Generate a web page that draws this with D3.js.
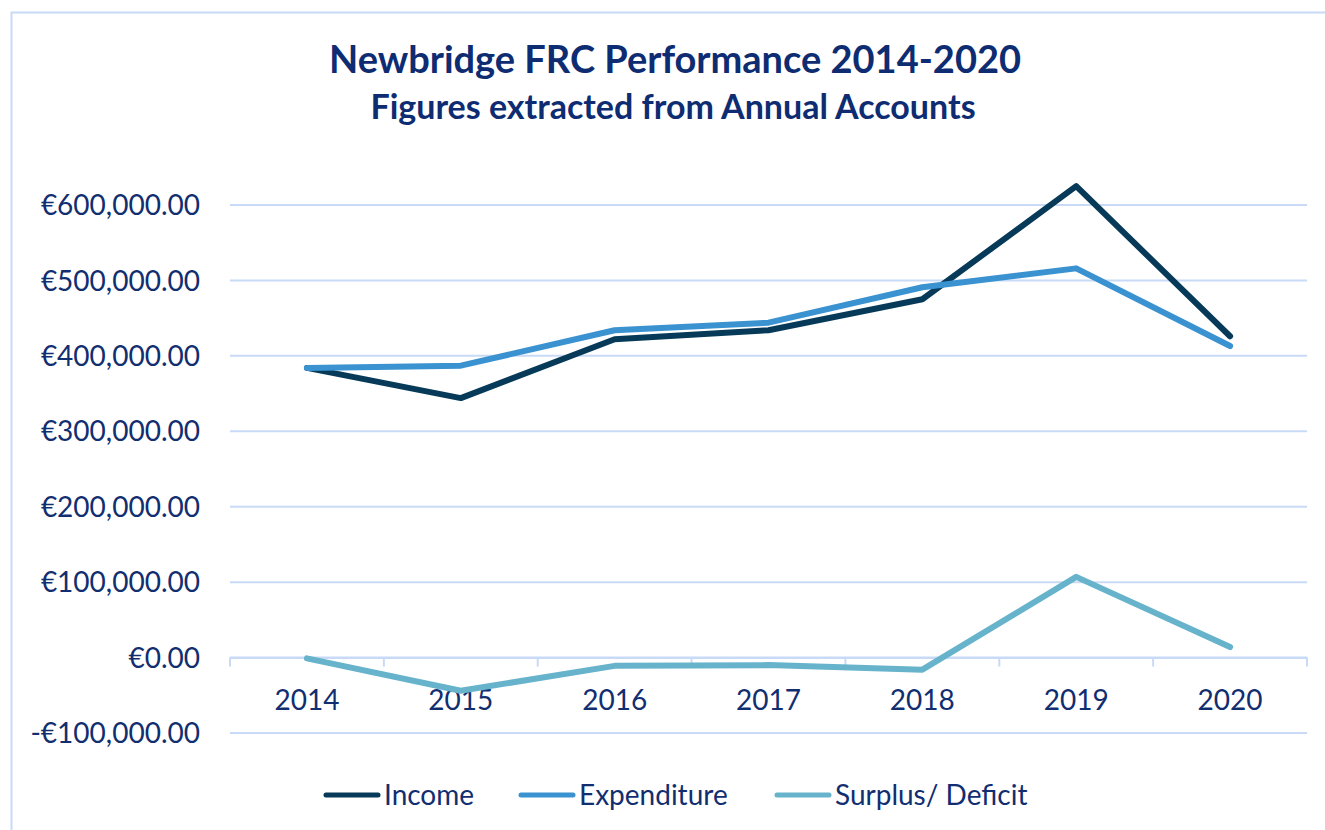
<!DOCTYPE html>
<html>
<head>
<meta charset="utf-8">
<script src="https://cdn.jsdelivr.net/npm/d3@7"></script>
<style>
  body { margin: 0; background: #fff; }
  svg { display: block; font-family: Lato, "Open Sans", sans-serif; }
</style>
</head>
<body>
<svg id="chart" width="1325" height="830"></svg>
<script>
// values
var years = ["2014", "2015", "2016", "2017", "2018", "2019", "2020"];
var income = [384000, 344000, 422000, 434000, 475000, 625000, 426000];
var expenditure = [384000, 387000, 434000, 444000, 491000, 516000, 413000];
var surplus = [-1000, -44000, -11000, -10000, -16000, 107000, 14000];
var yTicks = [-100000, 0, 100000, 200000, 300000, 400000, 500000, 600000];

var seriesNames = ["Income", "Expenditure", "Surplus/ Deficit"];
var seriesValues = [income, expenditure, surplus];
var seriesColors = ["#073a58", "#3a92d0", "#66b3cb"];

var textColor = "#112e70",
  gridColor = "#c8daf6";

var svg = d3.select("svg#chart"),
  margin = {top: 205, right: 18, bottom: 97, left: 230},
  width = 1325 - margin.left - margin.right,
  height = 830 - margin.top - margin.bottom;

// chart frame, runs off the right and bottom edges like the reference
svg.append("rect")
  .attr("x", 11.5).attr("y", 12.5)
  .attr("width", 1330).attr("height", 830)
  .attr("fill", "none")
  .attr("stroke", gridColor)
  .attr("stroke-width", 2);

svg.append("text")
  .attr("x", 675).attr("y", 73)
  .attr("text-anchor", "middle")
  .attr("fill", "#0e2c72")
  .style("font-size", "38px").style("font-weight", "bold")
  .text("Newbridge FRC Performance 2014-2020");

svg.append("text")
  .attr("x", 673).attr("y", 119)
  .attr("text-anchor", "middle")
  .attr("fill", "#0e2c72")
  .style("font-size", "34px").style("font-weight", "bold")
  .text("Figures extracted from Annual Accounts");

var x = d3.scaleBand().domain(years).range([0, width]),
  y = d3.scaleLinear().domain([-100000, 600000]).range([733 - margin.top, 0]);

var g = svg.append("g")
  .attr("transform", "translate(" + margin.left + "," + margin.top + ")");

// gridlines
g.append("g")
  .selectAll("line")
  .data(yTicks)
  .enter().append("line")
  .attr("x1", 0).attr("x2", width)
  .attr("y1", function(d) { return y(d); })
  .attr("y2", function(d) { return y(d); })
  .attr("stroke", gridColor)
  .attr("stroke-width", 2);

// y labels
var euro = d3.format(",.2f");
g.append("g")
  .selectAll("text")
  .data(yTicks)
  .enter().append("text")
  .attr("x", -30)
  .attr("y", function(d) { return y(d); })
  .attr("dy", "0.36em")
  .attr("text-anchor", "end")
  .attr("fill", textColor)
  .style("font-size", "28px")
  .text(function(d) { return (d < 0 ? "-€" : "€") + euro(Math.abs(d)); });

// x axis at zero, ticks between categories
var xAxis = g.append("g")
  .attr("transform", "translate(0," + y(0) + ")")
  .call(d3.axisBottom(x).tickSize(0).tickPadding(33));
xAxis.select(".domain").attr("stroke", gridColor).attr("stroke-width", 2);
xAxis.selectAll("text")
  .attr("fill", textColor)
  .style("font-size", "28px")
  .style("font-family", "Lato, 'Open Sans', sans-serif");

xAxis.selectAll(".sep")
  .data(d3.range(years.length + 1))
  .enter().append("line")
  .attr("class", "sep")
  .attr("x1", function(i) { return i * x.step(); })
  .attr("x2", function(i) { return i * x.step(); })
  .attr("y1", 0).attr("y2", 9)
  .attr("stroke", gridColor)
  .attr("stroke-width", 2);

var line = d3.line()
  .x(function(d, i) { return x(years[i]) + x.bandwidth() / 2; })
  .y(function(d) { return y(d); });

g.selectAll(".series")
  .data(d3.range(seriesNames.length))
  .enter().append("path")
  .attr("class", "series")
  .attr("d", function(i) { return line(seriesValues[i]); })
  .attr("fill", "none")
  .attr("stroke", function(i) { return seriesColors[i]; })
  .attr("stroke-width", 6)
  .attr("stroke-linejoin", "round")
  .attr("stroke-linecap", "round");

// legend
var legendX = [324, 519, 775];
var legend = svg.append("g")
  .selectAll("g")
  .data(seriesNames)
  .enter().append("g")
  .attr("transform", function(d, i) { return "translate(" + legendX[i] + ",795)"; });

legend.append("line")
  .attr("x1", 2).attr("x2", 54)
  .attr("stroke", function(d, i) { return seriesColors[i]; })
  .attr("stroke-width", 5)
  .attr("stroke-linecap", "round");

legend.append("text")
  .attr("x", 60)
  .attr("dy", "0.36em")
  .attr("fill", textColor)
  .style("font-size", "28px")
  .text(function(d) { return d; });
</script>
</body>
</html>
